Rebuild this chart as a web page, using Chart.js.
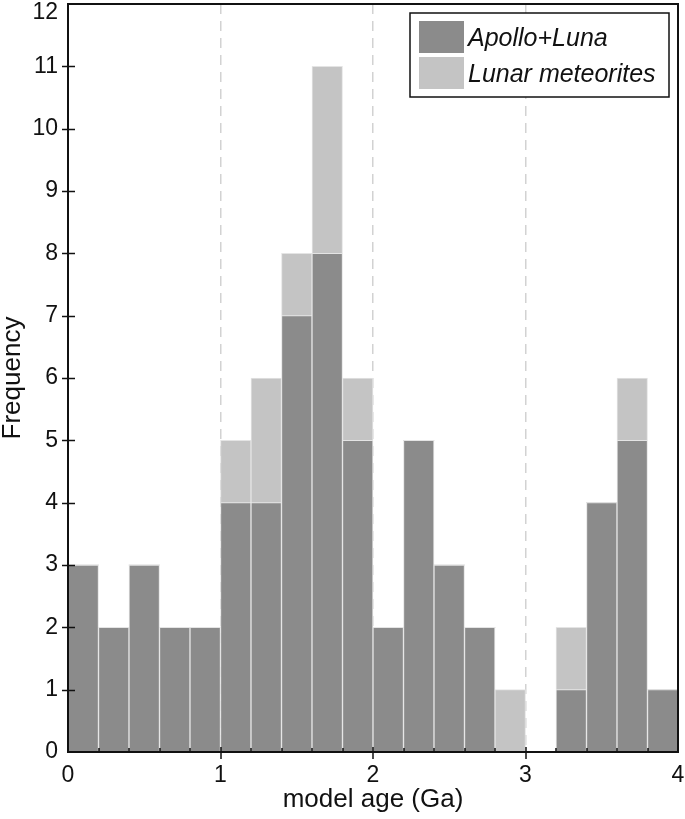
<!DOCTYPE html>
<html>
<head>
<meta charset="utf-8">
<script src="https://cdn.jsdelivr.net/npm/chart.js@4.4.0/dist/chart.umd.min.js"></script>
<style>
  html, body { margin: 0; padding: 0; background: #fff; overflow: hidden; }
  canvas { display: block; }
</style>
</head>
<body>
<canvas id="myChart" width="685" height="819"></canvas>
<script>
// histogram bins (centre of each 0.2 Ga bin)
var binCenters = [0.1, 0.3, 0.5, 0.7, 0.9, 1.1, 1.3, 1.5, 1.7, 1.9,
                  2.1, 2.3, 2.5, 2.7, 2.9, 3.1, 3.3, 3.5, 3.7, 3.9];
var binEdges = [0.2, 0.4, 0.6, 0.8, 1.2, 1.4, 1.6, 1.8, 2.2, 2.4,
                2.6, 2.8, 3.2, 3.4, 3.6, 3.8];
var apolloLuna      = [3, 2, 3, 2, 2, 4, 4, 7, 8, 5, 2, 5, 3, 2, 0, 0, 1, 4, 5, 1];
var lunarMeteorites = [0, 0, 0, 0, 0, 1, 2, 1, 3, 1, 0, 0, 0, 0, 1, 0, 1, 0, 1, 0];
var seriesNames = ["Apollo+Luna", "Lunar meteorites"];
var seriesColors = ["#8b8b8b", "#c4c4c4"];

var FONT = "'Liberation Sans', Arial, sans-serif";
var INK = "#111111";

function toPoints(values) {
  return binCenters.map(function(x, i) { return { x: x, y: values[i] }; });
}

var framePlugin = {
  id: 'frame',
  afterDatasetsDraw: function(chart) {
    var c = chart.ctx, a = chart.chartArea;
    var xs = chart.scales.x, ys = chart.scales.y;
    c.save();
    c.strokeStyle = INK;
    // minor ticks (inward) at bin edges
    c.lineWidth = 1.5;
    c.beginPath();
    binEdges.forEach(function(v) {
      var px = Math.round(xs.getPixelForValue(v));
      c.moveTo(px, a.bottom - 4);
      c.lineTo(px, a.bottom);
    });
    // major x ticks
    [1, 2, 3].forEach(function(v) {
      var px = Math.round(xs.getPixelForValue(v));
      c.moveTo(px, a.bottom - 5);
      c.lineTo(px, a.bottom + 7);
    });
    // y ticks crossing the axis
    ys.ticks.forEach(function(t) {
      if (t.value <= 0 || t.value >= 12) return;
      var py = Math.round(ys.getPixelForValue(t.value)) + 0.5;
      c.moveTo(a.left - 6, py);
      c.lineTo(a.left + 7, py);
    });
    c.stroke();
    // frame
    c.lineWidth = 2;
    c.strokeRect(a.left, a.top, a.right - a.left, a.bottom - a.top);

    // top y label, pushed inside like the original
    c.fillStyle = INK;
    c.font = "23px " + FONT;
    c.textAlign = 'right';
    c.textBaseline = 'middle';
    c.fillText(String(ys.max), a.left - 10, a.top + 9);

    // legend box
    var lx = a.right - 268, ly = a.top + 9, lw = 259, lh = 84;
    c.fillStyle = '#fff';
    c.fillRect(lx, ly, lw, lh);
    c.lineWidth = 1.5;
    c.strokeRect(lx, ly, lw, lh);
    c.font = "italic 25px " + FONT;
    c.textAlign = 'left';
    c.textBaseline = 'alphabetic';
    chart.data.datasets.forEach(function(ds, i) {
      var sy = ly + 8 + i * 36;
      c.fillStyle = ds.backgroundColor;
      c.fillRect(lx + 9, sy, 45, 32);
      c.fillStyle = INK;
      c.fillText(ds.label, lx + 58, sy + 25);
    });
    c.restore();
  }
};

var ctx = document.getElementById("myChart");
var myChart = new Chart(ctx, {
  type: 'bar',
  data: {
    datasets: [
      {
        label: seriesNames[0],
        data: toPoints(apolloLuna),
        backgroundColor: seriesColors[0],
        borderColor: '#e4e4e4',
        borderWidth: function(c) { return c.raw && c.raw.y ? 1 : 0; },
        barPercentage: 1,
        categoryPercentage: 1
      },
      {
        label: seriesNames[1],
        data: toPoints(lunarMeteorites),
        backgroundColor: seriesColors[1],
        borderColor: '#e4e4e4',
        borderWidth: function(c) { return c.raw && c.raw.y ? 1 : 0; },
        barPercentage: 1,
        categoryPercentage: 1
      }
    ]
  },
  options: {
    responsive: false,
    animation: false,
    layout: { padding: { top: 4, left: 0, right: 0, bottom: 0 } },
    plugins: {
      legend: { display: false },
      tooltip: { enabled: false }
    },
    scales: {
      x: {
        type: 'linear',
        min: 0,
        max: 4,
        stacked: true,
        offset: false,
        grid: {
          offset: false,
          drawTicks: false,
          lineWidth: 1.5,
          color: function(c) {
            var v = c.tick ? c.tick.value : 0;
            return (v > 0 && v < 4) ? '#d2d2d2' : 'rgba(0,0,0,0)';
          }
        },
        border: { display: false, dash: [10, 7] },
        ticks: {
          stepSize: 1,
          autoSkip: false,
          maxRotation: 0,
          padding: 10,
          color: INK,
          font: { family: FONT, size: 23 }
        },
        title: {
          display: true,
          text: 'model age (Ga)',
          color: INK,
          font: { family: FONT, size: 26 },
          padding: { top: 0, bottom: 4 }
        },
        afterFit: function(s) { s.height = 67; s.paddingLeft = 0; s.paddingRight = 7; }
      },
      y: {
        min: 0,
        max: 12,
        stacked: true,
        grid: { display: false, drawTicks: false },
        border: { display: false },
        ticks: {
          stepSize: 1,
          padding: 10,
          color: INK,
          font: { family: FONT, size: 23 },
          callback: function(v) { return v === 12 ? null : v; }
        },
        title: {
          display: true,
          text: 'Frequency',
          color: INK,
          font: { family: FONT, size: 26, lineHeight: 0.96 },
          padding: 0
        },
        afterFit: function(s) { s.width = 68; s.paddingTop = 0; }
      }
    }
  },
  plugins: [framePlugin]
});
</script>
</body>
</html>
